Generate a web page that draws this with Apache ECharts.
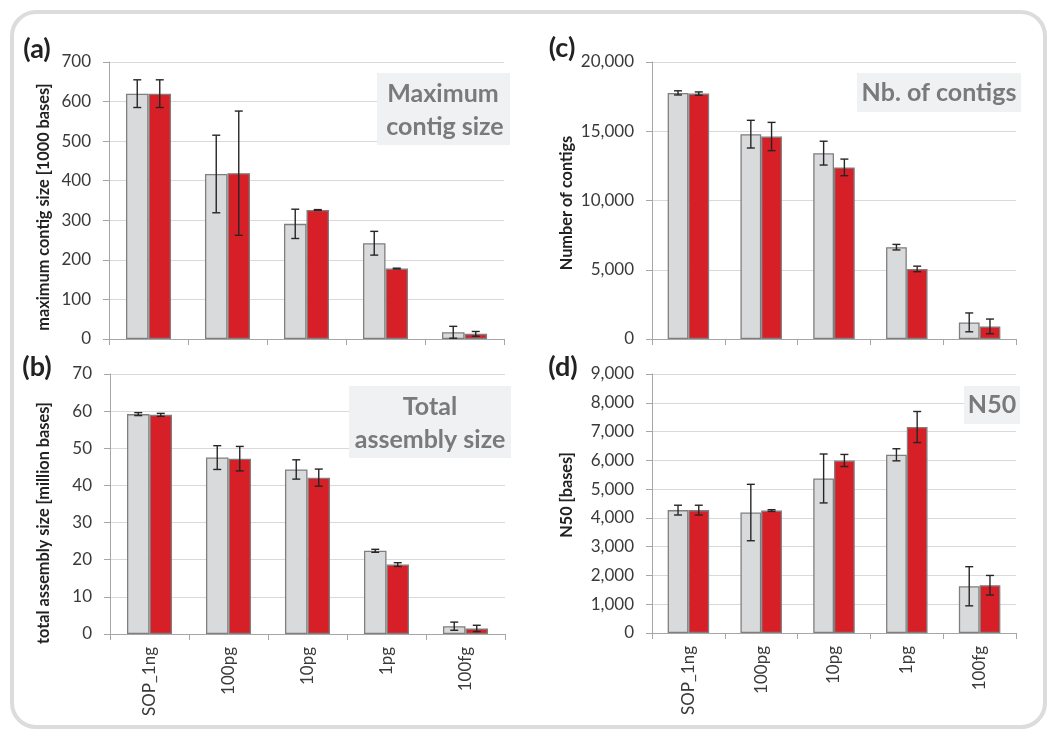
<!DOCTYPE html>
<html><head><meta charset="utf-8">
<script src="https://cdn.jsdelivr.net/npm/echarts@6/dist/echarts.min.js"></script>
<style>html,body{margin:0;padding:0;background:#fff;}#c{width:1051px;height:732px;}</style>
</head><body><div id="c"></div>
<script>
var categories = ['SOP_1ng', '100pg', '10pg', '1pg', '100fg'];

var maxContigGray = [620, 417, 291, 242, 17];
var maxContigGrayErr = [35, 98, 37, 30, 15];
var maxContigRed = [620, 419, 326, 178, 13];
var maxContigRedErr = [35, 157, 1, 1, 6];

var totalGray = [59.2, 47.5, 44.3, 22.4, 2.1];
var totalGrayErr = [0.4, 3.2, 2.6, 0.4, 1.1];
var totalRed = [59.0, 47.2, 42.1, 18.7, 1.5];
var totalRedErr = [0.4, 3.3, 2.3, 0.5, 0.85];

var contigsGray = [17770, 14790, 13420, 6630, 1200];
var contigsGrayErr = [150, 1000, 860, 200, 680];
var contigsRed = [17720, 14620, 12390, 5060, 910];
var contigsRedErr = [120, 1020, 600, 200, 530];

var n50Gray = [4270, 4186, 5370, 6193, 1624];
var n50GrayErr = [170, 980, 850, 210, 680];
var n50Red = [4270, 4255, 5995, 7157, 1660];
var n50RedErr = [170, 30, 210, 540, 340];

var yMax = [700, 70, 20000, 9000];
var yInterval = [100, 10, 5000, 1000];

var FONT = 'Lato';
var GRAY = '#d9dadc', RED = '#d71f27', EDGE = '#7f7f7f';
var CAT_GAP = 0.43;

var grids = [
  {left: 109, top: 62, width: 395, height: 277},
  {left: 110, top: 374, width: 395, height: 260},
  {left: 652, top: 62, width: 364, height: 277},
  {left: 652, top: 374, width: 364, height: 259}
];

var panels = [
  {g: maxContigGray, ge: maxContigGrayErr, r: maxContigRed, re: maxContigRedErr, labels: false},
  {g: totalGray, ge: totalGrayErr, r: totalRed, re: totalRedErr, labels: true},
  {g: contigsGray, ge: contigsGrayErr, r: contigsRed, re: contigsRedErr, labels: false},
  {g: n50Gray, ge: n50GrayErr, r: n50Red, re: n50RedErr, labels: true}
];

function fmt(v) { return Number(v).toLocaleString('en-US'); }

var xAxes = [], yAxes = [], series = [];
panels.forEach(function (p, i) {
  xAxes.push({
    type: 'category', gridIndex: i, data: categories,
    axisLine: {lineStyle: {color: '#a6a6a6', width: 1}},
    axisTick: {show: true, length: 6, lineStyle: {color: '#a6a6a6'}},
    axisLabel: {show: p.labels, rotate: 90, margin: 13, color: '#3a3a3a', fontFamily: FONT, fontSize: 17}
  });
  yAxes.push({
    type: 'value', gridIndex: i, min: 0, max: yMax[i], interval: yInterval[i],
    axisLine: {show: true, lineStyle: {color: '#a6a6a6', width: 1}},
    axisTick: {show: true, length: 6, lineStyle: {color: '#a6a6a6'}},
    splitLine: {lineStyle: {color: '#d9d9d9', width: 1}},
    axisLabel: {margin: 18, color: '#3a3a3a', fontFamily: FONT, fontSize: 17, formatter: fmt}
  });
  series.push({
    type: 'bar', xAxisIndex: i, yAxisIndex: i, data: p.g,
    barGap: '0%', barCategoryGap: (CAT_GAP * 100) + '%',
    itemStyle: {color: GRAY, borderColor: EDGE, borderWidth: 1.3}, silent: true
  });
  series.push({
    type: 'bar', xAxisIndex: i, yAxisIndex: i, data: p.r,
    barGap: '0%', barCategoryGap: (CAT_GAP * 100) + '%',
    itemStyle: {color: RED, borderColor: EDGE, borderWidth: 1.3}, silent: true
  });
  [[p.g, p.ge, -1], [p.r, p.re, 1]].forEach(function (s) {
    var data = s[0].map(function (v, k) { return [k, v, s[1][k]]; });
    var side = s[2];
    series.push({
      type: 'custom', xAxisIndex: i, yAxisIndex: i, data: data, silent: true, z: 5,
      encode: {x: 0, y: 1},
      renderItem: function (params, api) {
        var k = api.value(0), v = api.value(1), e = api.value(2);
        var band = api.size([1, 0])[0];
        var bw = band * (1 - CAT_GAP) / 2;
        var c = api.coord([k, v]);
        var x = c[0] + side * bw / 2;
        var top = api.coord([k, v + e])[1];
        var bot = api.coord([k, v - e])[1];
        var cap = 4;
        var st = {stroke: '#262626', lineWidth: 1.4};
        return {type: 'group', children: [
          {type: 'line', shape: {x1: x, y1: top, x2: x, y2: bot}, style: st},
          {type: 'line', shape: {x1: x - cap, y1: top, x2: x + cap, y2: top}, style: st},
          {type: 'line', shape: {x1: x - cap, y1: bot, x2: x + cap, y2: bot}, style: st}
        ]};
      }
    });
  });
});

var boxFill = '#f0f1f3', boxText = '#7a7a7a';
function box(x, y, w, h) {
  return {type: 'rect', shape: {x: x, y: y, width: w, height: h}, style: {fill: boxFill}, z: 1};
}
function btext(x, y, t) {
  return {type: 'text', x: x, y: y, z: 2, style: {text: t, fill: boxText, font: 'bold 25px ' + FONT, textAlign: 'center', textVerticalAlign: 'middle'}};
}
function plabel(x, y, t) {
  return {type: 'text', x: x, y: y, style: {text: t, fill: '#222', font: 'bold 27px ' + FONT, textAlign: 'center', textVerticalAlign: 'middle'}};
}
function yname(x, y, t) {
  return {type: 'text', x: x, y: y, rotation: Math.PI / 2, style: {text: t, fill: '#222', font: 'bold 16.3px ' + FONT, textAlign: 'center', textVerticalAlign: 'middle'}};
}

var graphics = [
  {type: 'rect', shape: {x: 12, y: 12, width: 1033, height: 715, r: 24}, style: {fill: 'none', stroke: '#dcdcdc', lineWidth: 4}},
  box(377, 73, 133, 72), btext(443, 94, 'Maximum'), btext(445, 127, 'contig size'),
  box(349, 386, 162, 72), btext(430, 407, 'Total'), btext(430, 440, 'assembly size'),
  box(857, 73, 164, 39), btext(939, 93, 'Nb. of contigs'),
  box(964, 386, 56, 38), btext(992, 405, 'N50'),
  plabel(37, 49, '(a)'), plabel(37, 367, '(b)'), plabel(562, 48, '(c)'), plabel(563, 367, '(d)'),
  yname(44, 207, 'maximum contig size [1000 bases]'),
  yname(44, 523, 'total assembly size [million bases]'),
  yname(567, 203, 'Number of contigs'),
  yname(567, 495, 'N50 [bases]')
];

var chart = echarts.init(document.getElementById('c'), null, {renderer: 'canvas'});
chart.setOption({
  animation: false,
  backgroundColor: '#fff',
  grid: grids,
  xAxis: xAxes,
  yAxis: yAxes,
  series: series,
  graphic: graphics
});
</script></body></html>
